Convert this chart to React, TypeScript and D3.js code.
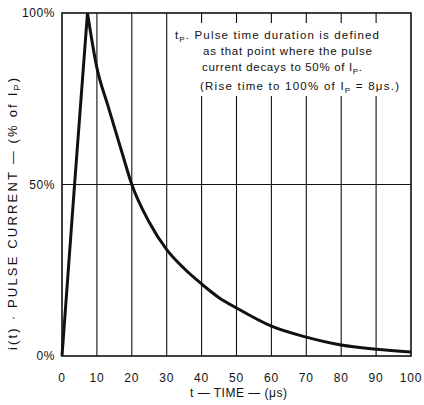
import React, { useRef, useEffect } from "react";
import * as d3 from "d3";

// pulse waveform
const timeUs = [0, 3.6, 7.3, 10, 13, 17, 20, 25, 30, 35, 40, 45, 50, 60, 70, 80, 90, 100];
const currentPct = [0, 50, 100, 84, 73.5, 60, 50, 39, 31, 25.5, 21, 17, 14, 8.7, 5.5, 3.2, 2, 1.2];
const peakIndex = 2;

const xTicks = [0, 10, 20, 30, 40, 50, 60, 70, 80, 90, 100];
const yTicks = [0, 50, 100];
const yTickLabels = ["0%", "50%", "100%"];

const App = () => {
  const svgRef = useRef<SVGSVGElement>(null);

  useEffect(() => {
    const W = 424;
    const H = 405;
    const margin = { top: 13, right: 13, bottom: 49, left: 62 };
    const width = W - margin.left - margin.right;
    const height = H - margin.top - margin.bottom;
    const font = "'Liberation Sans', Arial, sans-serif";
    const ink = "#111";

    const root = d3.select(svgRef.current);
    root.selectAll("*").remove();
    root.attr("width", W).attr("height", H);

    const svg = root.append("g").attr("transform", `translate(${margin.left}, ${margin.top})`);

    const x = d3.scaleLinear().domain([0, 100]).range([0, width]);
    const y = d3.scaleLinear().domain([0, 100]).range([height, 0]);

    // vertical grid
    svg
      .selectAll(".vgrid")
      .data(xTicks.slice(1, -1))
      .enter()
      .append("line")
      .attr("x1", (d) => x(d))
      .attr("x2", (d) => x(d))
      .attr("y1", 0)
      .attr("y2", height)
      .attr("stroke", ink)
      .attr("stroke-width", 1.1);

    // 50% line
    svg
      .append("line")
      .attr("x1", 0)
      .attr("x2", width)
      .attr("y1", y(50))
      .attr("y2", y(50))
      .attr("stroke", ink)
      .attr("stroke-width", 1.2);

    // note box knocks out the grid behind the text
    svg
      .append("rect")
      .attr("x", x(31.5))
      .attr("y", 10)
      .attr("width", x(99.3) - x(31.5))
      .attr("height", 73)
      .attr("fill", "#fff");

    // frame
    svg
      .append("rect")
      .attr("x", 0)
      .attr("y", 0)
      .attr("width", width)
      .attr("height", height)
      .attr("fill", "none")
      .attr("stroke", ink)
      .attr("stroke-width", 1.6);

    // curve: straight rise, smooth decay
    const rise = currentPct.slice(0, peakIndex + 1);
    const decay = currentPct.slice(peakIndex);
    svg
      .append("path")
      .attr("d", d3.line<number>().x((d, i) => x(timeUs[i])).y((d) => y(d))(rise))
      .attr("fill", "none")
      .attr("stroke", ink)
      .attr("stroke-width", 3);
    svg
      .append("path")
      .attr(
        "d",
        d3
          .line<number>()
          .x((d, i) => x(timeUs[i + peakIndex]))
          .y((d) => y(d))
          .curve(d3.curveMonotoneX)(decay)
      )
      .attr("fill", "none")
      .attr("stroke", ink)
      .attr("stroke-width", 3);

    // x tick labels
    svg
      .selectAll(".xlab")
      .data(xTicks)
      .enter()
      .append("text")
      .attr("x", (d) => x(d))
      .attr("y", height + 26)
      .attr("text-anchor", "middle")
      .style("font-family", font)
      .style("font-size", "12px")
      .style("letter-spacing", "0.8px")
      .attr("fill", ink)
      .text((d) => d);

    // y tick labels
    svg
      .selectAll(".ylab")
      .data(yTicks)
      .enter()
      .append("text")
      .attr("x", -7)
      .attr("y", (d) => y(d) + 4)
      .attr("text-anchor", "end")
      .style("font-family", font)
      .style("font-size", "12px")
      .style("letter-spacing", "0.6px")
      .attr("fill", ink)
      .text((d, i) => yTickLabels[i]);

    // x title
    root
      .append("text")
      .attr("x", 190)
      .attr("y", H - 8)
      .attr("textLength", 97)
      .attr("lengthAdjust", "spacing")
      .style("font-family", font)
      .style("font-size", "12px")
      .attr("fill", ink)
      .text("t — TIME — (μs)");

    // y title
    const yt = root
      .append("text")
      .attr("transform", `translate(17, 350) rotate(-90)`)
      .attr("textLength", 272)
      .attr("lengthAdjust", "spacing")
      .style("font-family", font)
      .style("font-size", "13px")
      .attr("fill", ink);
    yt.append("tspan").text("i(t) · PULSE CURRENT — (% of I");
    yt.append("tspan").attr("dy", 3).style("font-size", "9px").text("P");
    yt.append("tspan").attr("dy", -3).text(")");

    // note text
    const note = root
      .append("g")
      .style("font-family", font)
      .style("font-size", "11.5px")
      .attr("fill", ink);

    const t1 = note.append("text").attr("x", 175).attr("y", 39).attr("textLength", 204).attr("lengthAdjust", "spacing");
    t1.append("tspan").text("t");
    t1.append("tspan").attr("dy", 3).style("font-size", "8px").text("P");
    t1.append("tspan").attr("dy", -3).text(". Pulse time duration is defined");

    note
      .append("text")
      .attr("x", 203)
      .attr("y", 55)
      .attr("textLength", 169)
      .attr("lengthAdjust", "spacing")
      .text("as that point where the pulse");

    const t3 = note.append("text").attr("x", 202).attr("y", 71).attr("textLength", 160).attr("lengthAdjust", "spacing");
    t3.append("tspan").text("current decays to 50% of I");
    t3.append("tspan").attr("dy", 3).style("font-size", "8px").text("P");
    t3.append("tspan").attr("dy", -3).text(".");

    const t4 = note.append("text").attr("x", 200).attr("y", 90).attr("textLength", 199).attr("lengthAdjust", "spacing");
    t4.append("tspan").text("(Rise time to 100% of I");
    t4.append("tspan").attr("dy", 3).style("font-size", "8px").text("P");
    t4.append("tspan").attr("dy", -3).text(" = 8μs.)");
  }, []);

  return (
    <div>
      <svg ref={svgRef} style={{ display: "block", position: "absolute", left: 0, top: 0, background: "#fff" }}></svg>
    </div>
  );
};

export default App;
